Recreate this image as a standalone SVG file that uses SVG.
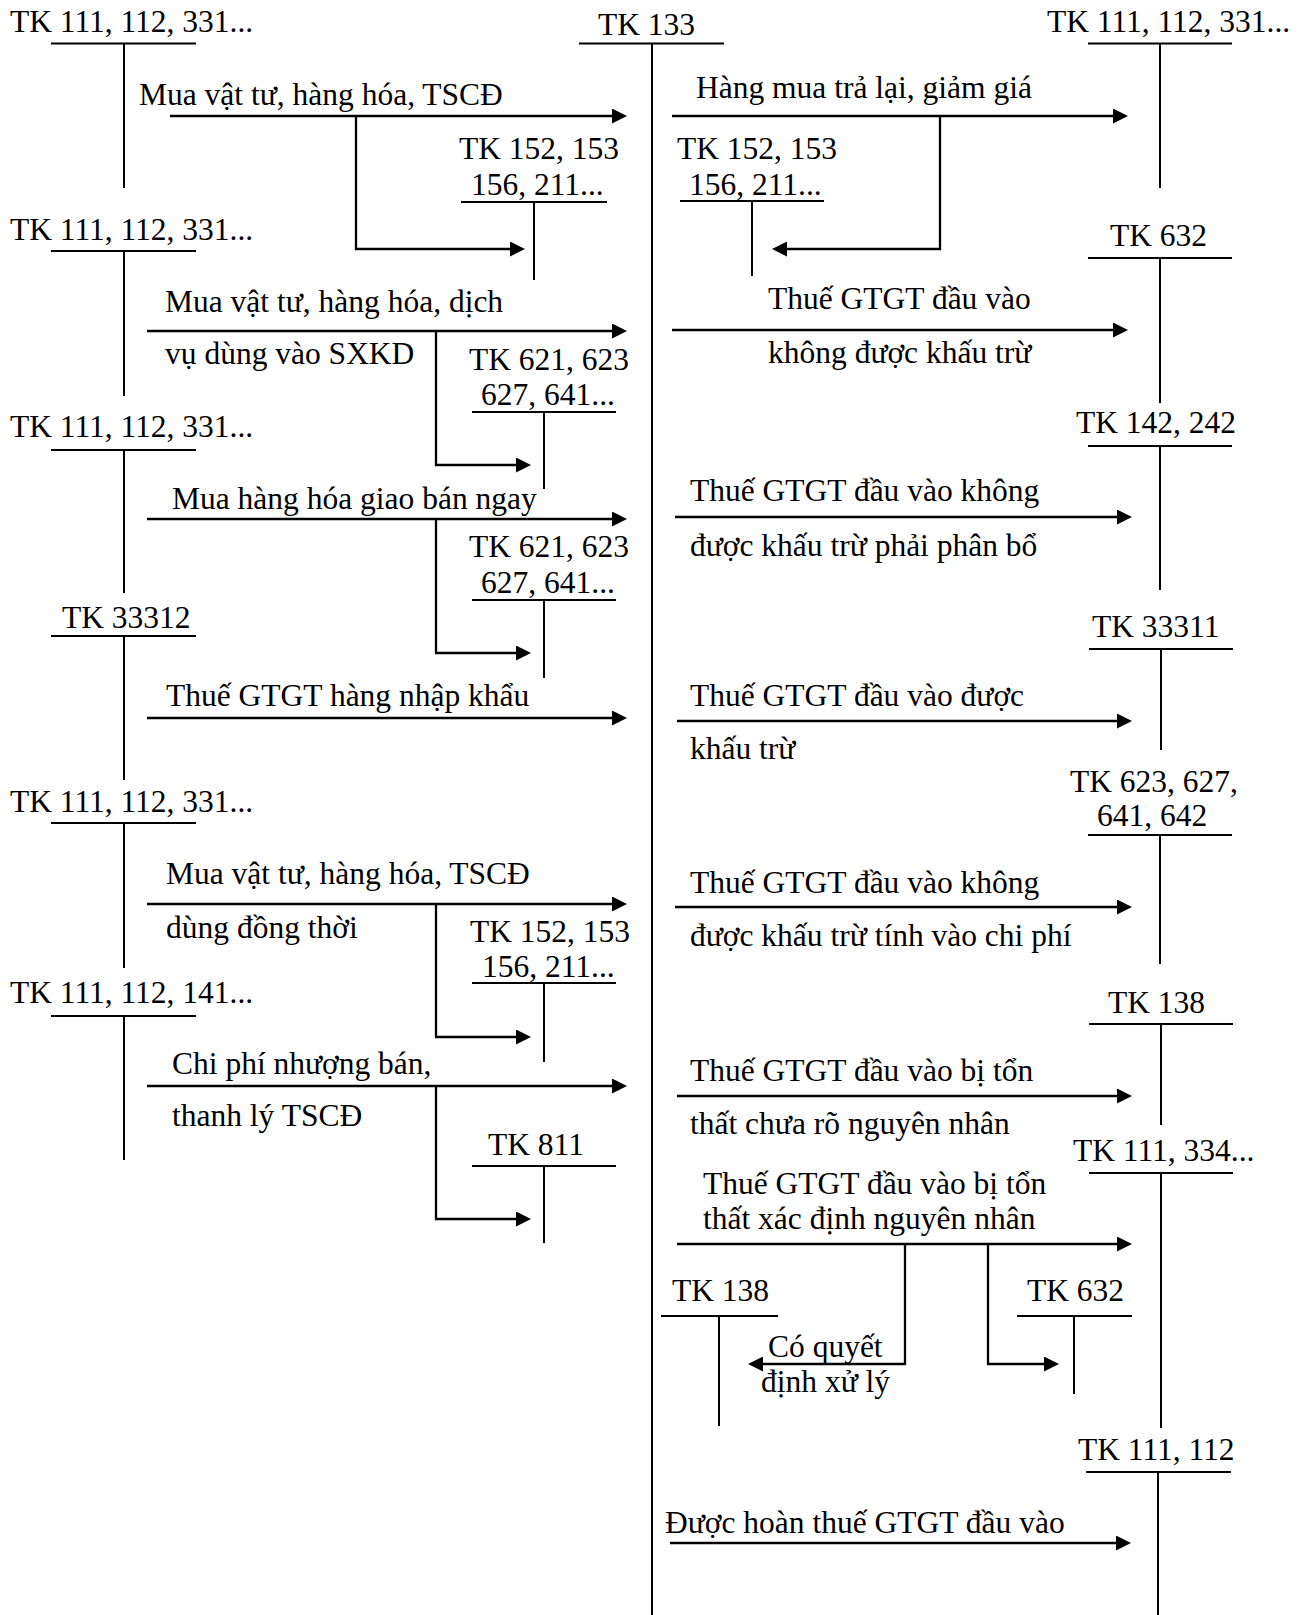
<svg xmlns="http://www.w3.org/2000/svg" width="1307" height="1615" viewBox="0 0 1307 1615">
<defs>
<style>
.t{font-family:"Liberation Serif","Times New Roman",serif;font-size:31.5px;fill:#000}
.acc{stroke:#000;stroke-width:2;fill:none}
.arr{stroke:#000;stroke-width:2.7;fill:none;marker-end:url(#ah)}
.br{stroke:#000;stroke-width:2.3;fill:none;marker-end:url(#ah)}
</style>
<marker id="ah" markerUnits="userSpaceOnUse" markerWidth="15" markerHeight="15" viewBox="0 0 15 15" refX="9" refY="7.5" orient="auto">
<path d="M0,0 L15,7.5 L0,15 z" fill="#000"/>
</marker>
</defs>
<rect width="1307" height="1615" fill="#fff"/>

<g id="tk133"><text class="t" x="598" y="35">TK 133</text><path class="acc" d="M579,43.5 H724 M652,43.5 V1615"/></g>

<g id="L1"><text class="t" x="10" y="32">TK 111, 112, 331...</text><path class="acc" d="M51,43.5 H196 M124,43.5 V188"/></g>
<g id="L2"><text class="t" x="459" y="159">TK 152, 153</text><text class="t" x="471" y="195">156, 211...</text><path class="acc" d="M461,202 H607 M534,202 V280"/></g>
<g id="L3"><text class="t" x="10" y="240">TK 111, 112, 331...</text><path class="acc" d="M51,251 H196 M124,251 V396"/></g>
<g id="L4"><text class="t" x="469" y="370">TK 621, 623</text><text class="t" x="481" y="405">627, 641...</text><path class="acc" d="M472,412 H616 M544,412 V489"/></g>
<g id="L5"><text class="t" x="10" y="437">TK 111, 112, 331...</text><path class="acc" d="M51,450 H196 M124,450 V593"/></g>
<g id="L6"><text class="t" x="469" y="557">TK 621, 623</text><text class="t" x="481" y="593">627, 641...</text><path class="acc" d="M472,600 H616 M544,600 V678"/></g>
<g id="L7"><text class="t" x="62" y="628">TK 33312</text><path class="acc" d="M51,636 H196 M124,636 V780"/></g>
<g id="L8"><text class="t" x="10" y="812">TK 111, 112, 331...</text><path class="acc" d="M51,823 H196 M124,823 V968"/></g>
<g id="L9"><text class="t" x="470" y="942">TK 152, 153</text><text class="t" x="482" y="977">156, 211...</text><path class="acc" d="M472,983 H616 M544,983 V1062"/></g>
<g id="L10"><text class="t" x="10" y="1003">TK 111, 112, 141...</text><path class="acc" d="M51,1016 H196 M124,1016 V1160"/></g>
<g id="L11"><text class="t" x="488" y="1155">TK 811</text><path class="acc" d="M472,1166 H616 M544,1166 V1243"/></g>

<g id="R1"><text class="t" x="1047" y="32">TK 111, 112, 331...</text><path class="acc" d="M1088,43.5 H1232 M1160,43.5 V188"/></g>
<g id="R3"><text class="t" x="677" y="159">TK 152, 153</text><text class="t" x="689" y="195">156, 211...</text><path class="acc" d="M680,201 H824 M752,201 V276"/></g>
<g id="R4"><text class="t" x="1110" y="246">TK 632</text><path class="acc" d="M1088,258 H1232 M1160,258 V403"/></g>
<g id="R6"><text class="t" x="1076" y="433">TK 142, 242</text><path class="acc" d="M1088,446 H1232 M1160,446 V590"/></g>
<g id="R8"><text class="t" x="1092" y="637">TK 33311</text><path class="acc" d="M1089,649 H1233 M1161,649 V750"/></g>
<g id="R10"><text class="t" x="1070" y="792">TK 623, 627,</text><text class="t" x="1097" y="826">641, 642</text><path class="acc" d="M1088,835 H1232 M1160,835 V964"/></g>
<g id="R12"><text class="t" x="1108" y="1013">TK 138</text><path class="acc" d="M1089,1024 H1233 M1161,1024 V1125"/></g>
<g id="R14"><text class="t" x="1073" y="1161">TK 111, 334...</text><path class="acc" d="M1089,1173 H1233 M1161,1173 V1428"/></g>
<g id="R16"><text class="t" x="672" y="1301">TK 138</text><path class="acc" d="M661,1316 H778 M719,1316 V1426"/></g>
<g id="R17"><text class="t" x="1027" y="1301">TK 632</text><path class="acc" d="M1017,1316 H1132 M1074,1316 V1394"/></g>
<g id="R19"><text class="t" x="1078" y="1460">TK 111, 112</text><path class="acc" d="M1086,1472 H1231 M1158,1472 V1615"/></g>

<g id="connectors">
<path class="arr" d="M170,116 H621"/>
<path class="br" d="M356,116 V249 H519"/>
<text class="t" x="139" y="105">Mua vật tư, hàng hóa, TSCĐ</text>

<path class="arr" d="M147,331 H621"/>
<path class="br" d="M436,331 V465 H525"/>
<text class="t" x="165" y="312">Mua vật tư, hàng hóa, dịch</text>
<text class="t" x="165" y="364">vụ dùng vào SXKD</text>

<path class="arr" d="M147,519 H621"/>
<path class="br" d="M436,519 V653 H525"/>
<text class="t" x="172" y="509">Mua hàng hóa giao bán ngay</text>

<path class="arr" d="M147,718 H621"/>
<text class="t" x="166" y="706">Thuế GTGT hàng nhập khẩu</text>

<path class="arr" d="M147,904 H621"/>
<path class="br" d="M436,904 V1037 H525"/>
<text class="t" x="166" y="884">Mua vật tư, hàng hóa, TSCĐ</text>
<text class="t" x="166" y="938">dùng đồng thời</text>

<path class="arr" d="M147,1086 H621"/>
<path class="br" d="M436,1086 V1219 H525"/>
<text class="t" x="172" y="1074">Chi phí nhượng bán,</text>
<text class="t" x="172" y="1126">thanh lý TSCĐ</text>

<path class="arr" d="M672,116 H1122"/>
<path class="br" d="M940,116 V249 H778"/>
<text class="t" x="696" y="98">Hàng mua trả lại, giảm giá</text>

<path class="arr" d="M672,330 H1122"/>
<text class="t" x="768" y="309">Thuế GTGT đầu vào</text>
<text class="t" x="768" y="363">không được khấu trừ</text>

<path class="arr" d="M675,517 H1126"/>
<text class="t" x="690" y="501">Thuế GTGT đầu vào không</text>
<text class="t" x="690" y="556">được khấu trừ phải phân bổ</text>

<path class="arr" d="M677,721 H1126"/>
<text class="t" x="690" y="706">Thuế GTGT đầu vào được</text>
<text class="t" x="690" y="759">khấu trừ</text>

<path class="arr" d="M675,907 H1126"/>
<text class="t" x="690" y="893">Thuế GTGT đầu vào không</text>
<text class="t" x="690" y="946">được khấu trừ tính vào chi phí</text>

<path class="arr" d="M677,1096 H1126"/>
<text class="t" x="690" y="1081">Thuế GTGT đầu vào bị tổn</text>
<text class="t" x="690" y="1134">thất chưa rõ nguyên nhân</text>

<path class="arr" d="M677,1244 H1126"/>
<text class="t" x="703" y="1194">Thuế GTGT đầu vào bị tổn</text>
<text class="t" x="703" y="1229">thất xác định nguyên nhân</text>
<path class="br" d="M905,1244 V1364 H754"/>
<path class="br" d="M988,1244 V1364 H1053"/>
<text class="t" x="768" y="1357">Có quyết</text>
<text class="t" x="761" y="1392">định xử lý</text>

<path class="arr" d="M670,1543 H1125"/>
<text class="t" x="665" y="1533">Được hoàn thuế GTGT đầu vào</text>
</g>
</svg>
